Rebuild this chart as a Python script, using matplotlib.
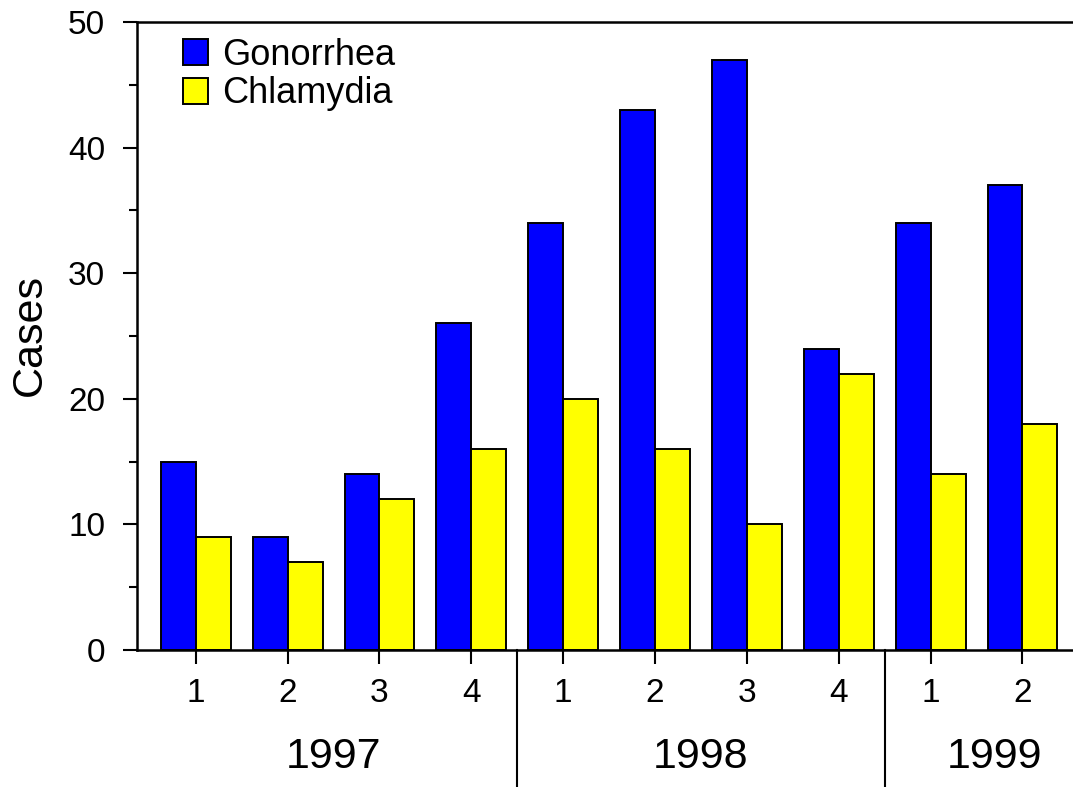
import matplotlib
matplotlib.use("Agg")
import matplotlib.pyplot as plt
import matplotlib.transforms as mtransforms
from matplotlib.ticker import MultipleLocator
import numpy as np

quarters = ["1", "2", "3", "4", "1", "2", "3", "4", "1", "2"]
years = ["1997", "1998", "1999"]
year_groups = [(0, 3), (4, 7), (8, 9)]
gonorrhea = [15, 9, 14, 26, 34, 43, 47, 24, 34, 37]
chlamydia = [9, 7, 12, 16, 20, 16, 10, 22, 14, 18]

plt.rcParams['font.family'] = ['Liberation Sans', 'DejaVu Sans']

fig = plt.figure(figsize=(10.73, 7.87), dpi=100)
ax = fig.add_axes([137/1073, 1 - 650/787, 1 - 137/1073, (650 - 22)/787])

x = np.arange(len(quarters))
w = 0.38
ax.bar(x - w/2, gonorrhea, w, color="#0000ff", edgecolor="black", linewidth=1.4, label="Gonorrhea")
ax.bar(x + w/2, chlamydia, w, color="#ffff00", edgecolor="black", linewidth=1.4, label="Chlamydia")

ax.set_xlim(-0.64, 9.55)
ax.set_ylim(0, 50)
ax.yaxis.set_major_locator(MultipleLocator(10))
ax.yaxis.set_minor_locator(MultipleLocator(5))
ax.set_xticks(x)
ax.set_xticklabels(quarters)
ax.tick_params(axis="y", which="major", length=10, width=1.5, labelsize=24, pad=13)
ax.tick_params(axis="y", which="minor", length=6, width=1.5)
ax.tick_params(axis="x", which="major", length=10, width=1.5, labelsize=24, pad=10)

for s in ["left", "bottom", "top"]:
    ax.spines[s].set_linewidth(1.8)
ax.spines["right"].set_visible(False)

fig.text(30/1073, 1 - 335/787, "Cases", rotation=90, ha="center", va="center", fontsize=31)

trans = mtransforms.blended_transform_factory(ax.transData, ax.transAxes)
for (a, b) in year_groups[:-1]:
    xs = (b + b + 1) / 2
    ax.plot([xs, xs], [0, -0.3], transform=trans, color="black", lw=1.5, clip_on=False)

year_x = [(0 + 3) / 2, (4 + 7) / 2, 8.7]
for yx, lab in zip(year_x, years):
    ax.text(yx, -0.17, lab, transform=trans, ha="center", va="center", fontsize=31)

leg = ax.legend(loc="upper left", bbox_to_anchor=(0.049, 0.975), frameon=False,
                fontsize=26, handlelength=0.7, handleheight=0.72, handletextpad=0.4,
                labelspacing=0.1, borderpad=0, borderaxespad=0)

fig.savefig("out.png", dpi=100)
